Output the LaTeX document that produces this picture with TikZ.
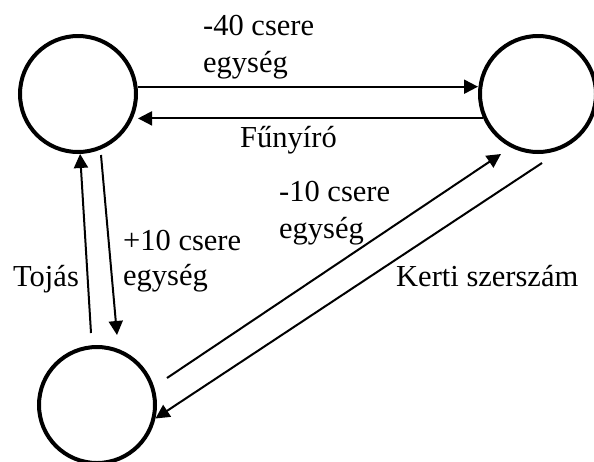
\documentclass[tikz,border=0pt]{standalone}
\usepackage{fontspec}
\setmainfont{Liberation Serif}
\usetikzlibrary{arrows.meta,calc}
\begin{document}
\begin{tikzpicture}[x=1pt,y=-1pt,
  state/.style={draw,circle,line width=4pt,minimum size=116pt,inner sep=0pt},
  conn/.style={line width=2pt,-{Triangle[length=14pt,width=14pt]}},
  plainline/.style={line width=2pt},
  lbl/.style={anchor=base west,inner sep=0pt,font=\fontsize{30.5}{36}\selectfont}]
\useasboundingbox (0,0) rectangle (594,461);
\node[state] (tl) at (78,94) {};
\node[state] (tr) at (538,94) {};
\node[state] (bl) at (97,405) {};
% free ends
\coordinate (tojasTail) at (91,333);
\coordinate (plusTail) at (101,155);
\coordinate (plusTip) at (117,335);
\coordinate (diagUpTail) at (167,378);
\coordinate (diagUpTip) at (501,154);
\coordinate (diagDownTail) at (542,163);
% connectors
\draw[conn] (tl.7) -- (tl.7 -| tr.west);
\draw[conn] (tr.204) -- (tr.204 -| tl.east);
\draw[conn] (tojasTail) -- (tl.272);
\draw[conn] (plusTail) -- (plusTip);
\draw[conn] (diagUpTail) -- (diagUpTip);
\draw[conn] (diagDownTail) -- (bl.-13);
% labels
\node[lbl] (l40a) at (203,35) {-40 csere};
\node[lbl] (l40b) at (203,72) {egység};
\node[lbl] (lfu) at (240,147) {Fűnyíró};
\node[lbl] (l10a) at (279,201) {-10 csere};
\node[lbl] (l10b) at (279,238) {egység};
\node[lbl] (lp10a) at (123,250) {+10 csere};
\node[lbl] (lp10b) at (123,285) {egység};
\node[lbl] (ltoj) at (13,286) {Tojás};
\node[lbl] (lker) at (396,286) {Kerti szerszám};
\end{tikzpicture}
\end{document}
